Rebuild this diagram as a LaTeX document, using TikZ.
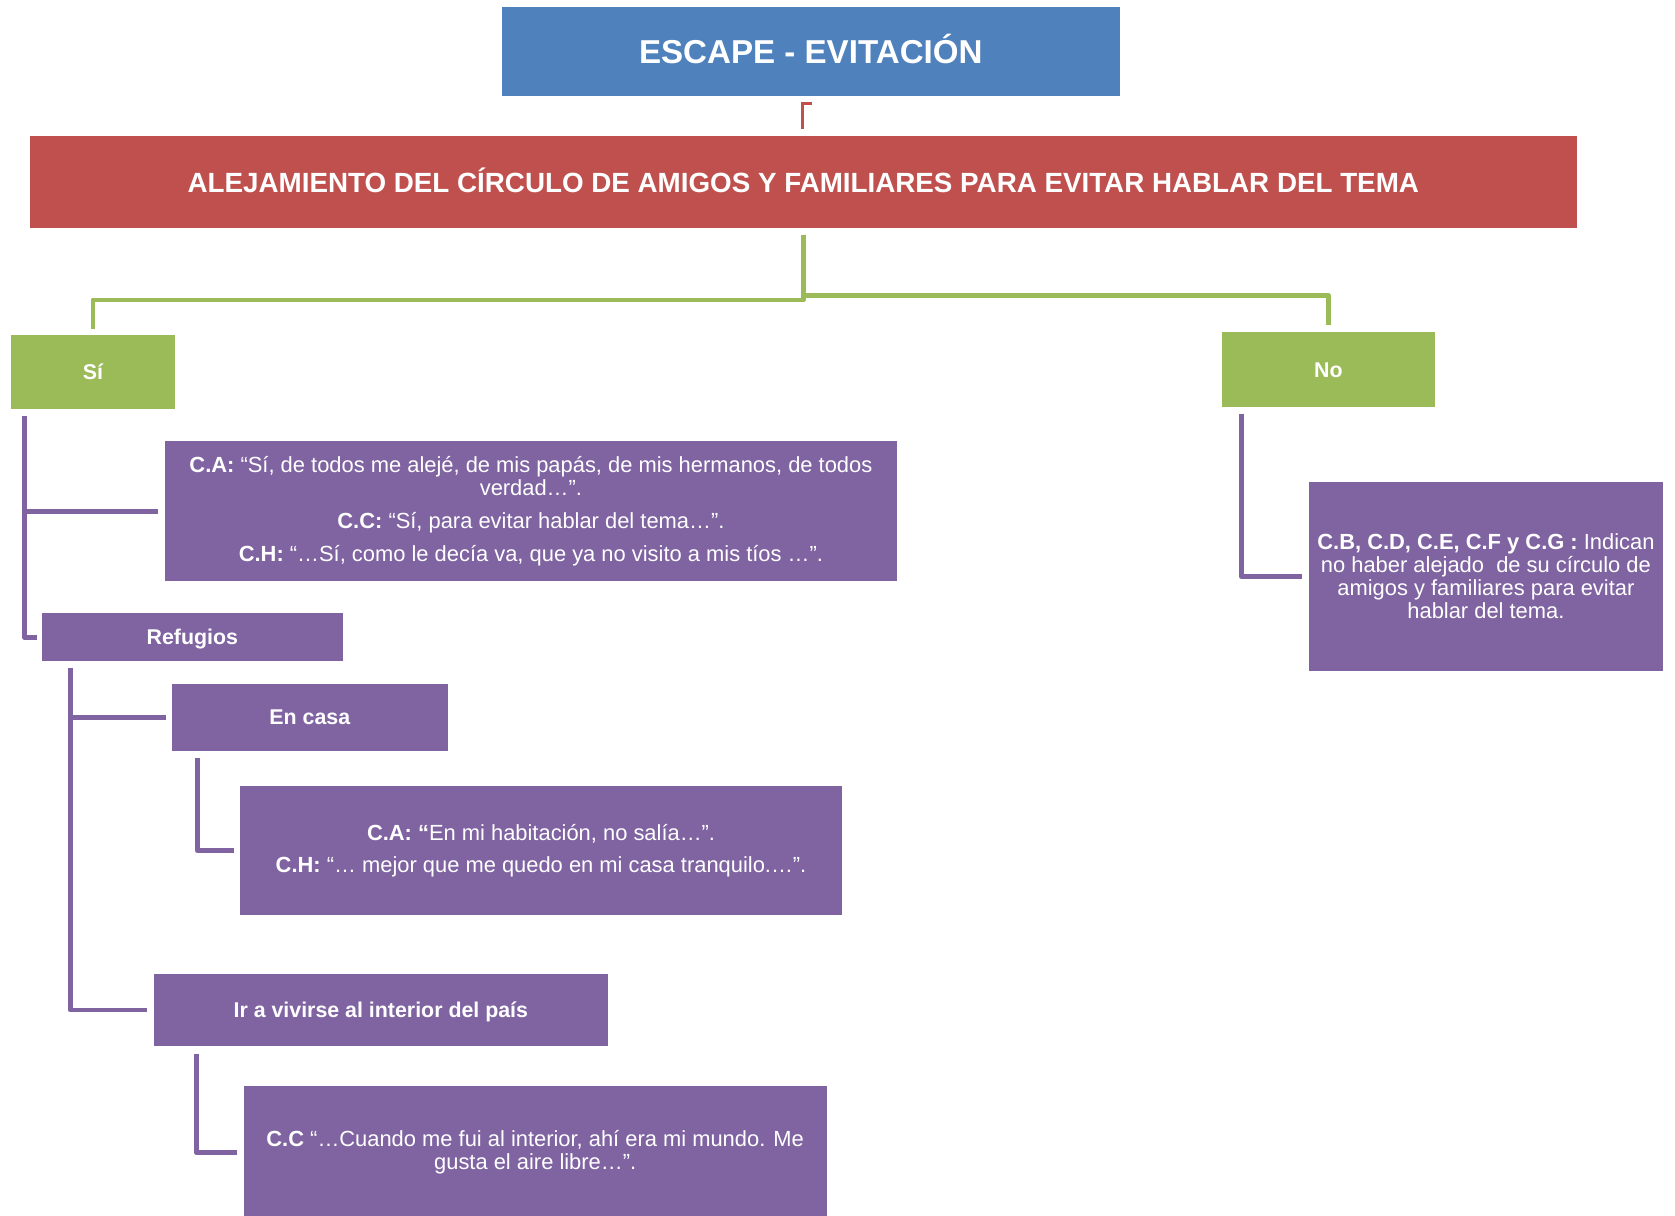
\documentclass[tikz,border=0pt]{standalone}
\usepackage{fontspec}
\setmainfont{Liberation Sans}
\usetikzlibrary{calc}
\definecolor{hdrblue}{HTML}{4F81BD}
\definecolor{hdrred}{HTML}{C0504D}
\definecolor{optgreen}{HTML}{9BBB59}
\definecolor{itempurple}{HTML}{8064A2}
\newcommand\quotesize{\fontsize{20.5}{21.5}\selectfont}
\newcommand\labelsize{\bfseries\fontsize{20}{24}\selectfont}
\begin{document}
\begin{tikzpicture}[x=1pt,y=-1pt,
  box/.style={rectangle, inner sep=0pt, align=center, text=white},
  labelbox/.style={box, font=\labelsize, text height=14.3pt, text depth=0pt},
  quotebox/.style={box, fill=itempurple, font=\quotesize},
  greenline/.style={draw=optgreen, line width=4.5pt, line join=round},
  purpleline/.style={draw=itempurple, line width=4.5pt, line join=round},
  redline/.style={draw=hdrred, line width=3pt}]
\useasboundingbox (0,0) rectangle (1568,1138);

% headings
\node[box, fill=hdrblue, minimum width=578pt, minimum height=83pt, text height=22.2pt, text depth=0pt,
      font=\bfseries\fontsize{31}{36}\selectfont] (title) at (759,48.5) {ESCAPE - EVITACIÓN};
\node[box, fill=hdrred, minimum width=1448pt, minimum height=86pt, text height=18.6pt, text depth=0pt,
      font=\bfseries\fontsize{26}{30}\selectfont] (red) at (752,170.5)
      {ALEJAMIENTO DEL CÍRCULO DE AMIGOS Y FAMILIARES PARA EVITAR HABLAR DEL TEMA};

% answers
\node[labelbox, fill=optgreen, minimum width=154pt, minimum height=69pt] (si) at (87,348.5) {Sí};
\node[labelbox, fill=optgreen, minimum width=199pt, minimum height=70pt] (no) at (1243.5,346) {No};

% branch "Sí"
\node[quotebox, minimum width=686pt, minimum height=131pt] (ca) at (497,478.5)
  {\textbf{C.A:} “Sí, de todos me alejé, de mis papás, de mis hermanos, de todos\\
   verdad…”.\\[9.5pt]
   \textbf{C.C:} “Sí, para evitar hablar del tema…”.\\[9.5pt]
   \textbf{C.H:} “…Sí, como le decía va, que ya no visito a mis tíos …”.};
\node[labelbox, fill=itempurple, minimum width=282pt, minimum height=45pt] (ref) at (180,596.5) {Refugios};
\node[labelbox, fill=itempurple, minimum width=258pt, minimum height=63pt] (casa) at (290,671.5) {En casa};
\node[quotebox, minimum width=563pt, minimum height=121pt] (q2) at (506.5,796.5)
  {\textbf{C.A: “}En mi habitación, no salía…”.\\[8.5pt]
   \textbf{C.H:} “… mejor que me quedo en mi casa tranquilo.…”.};
\node[labelbox, fill=itempurple, minimum width=425pt, minimum height=67pt] (ir) at (356.5,945.5)
  {Ir a vivirse al interior del país};
\node[quotebox, minimum width=546pt, minimum height=124pt] (q3) at (501,1079)
  {\textbf{C.C} “…Cuando me fui al interior, ahí era mi mundo. Me\\
   gusta el aire libre…”.};

% branch "No"
\node[quotebox, minimum width=332pt, minimum height=177pt] (noq) at (1391,539.5)
  {\textbf{C.B, C.D, C.E, C.F y C.G :} Indican\\
   no haber alejado\ \ de su círculo de\\
   amigos y familiares para evitar\\
   hablar del tema.};

% connectors
\draw[redline] ($(red.north)+(-1,-7)$) -- ($(title.south)+(-8,7)$) -- ++(9,0);

\draw[greenline] ($(red.south)+(0,6)$) |- ($(si.north)+(0,-33)$) -- ($(si.north)+(0,-6)$);
\draw[greenline] ($(red.south)+(0,6)$) |- ($(no.north)+(0,-34)$) -- ($(no.north)+(0,-7)$);

\coordinate (sispine) at ($(si.south west)+(13,6)$);
\draw[purpleline] (sispine) |- ($(ref.west)+(-4,0)$);
\draw[purpleline] (sispine |- ca.west) -- ($(ca.west)+(-6,0)$);

\coordinate (refspine) at ($(ref.south west)+(27,6)$);
\draw[purpleline] (refspine) |- ($(ir.west)+(-6,0)$);
\draw[purpleline] (refspine |- casa.west) -- ($(casa.west)+(-5,0)$);

\coordinate (casaspine) at ($(casa.south west)+(24,6)$);
\draw[purpleline] (casaspine) |- ($(q2.west)+(-6,0)$);

\coordinate (irspine) at ($(ir.south west)+(40,7)$);
\draw[purpleline] (irspine) |- ($(q3.west)+(-6,0)$);

\coordinate (nospine) at ($(no.south west)+(18,6)$);
\draw[purpleline] (nospine) |- ($(noq.west)+(-6,0)$);
\end{tikzpicture}
\end{document}
